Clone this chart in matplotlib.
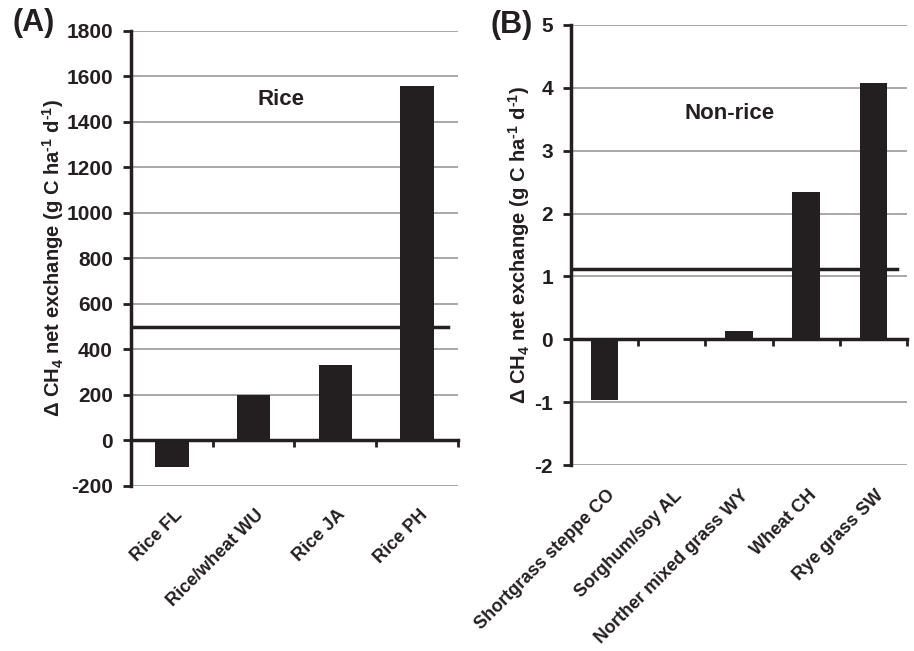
import numpy as np
import matplotlib
matplotlib.use('Agg')
import matplotlib.pyplot as plt
import matplotlib.transforms as mtransforms

plt.rcParams['font.family'] = 'Liberation Sans'
plt.rcParams['font.weight'] = 'bold'
plt.rcParams['axes.unicode_minus'] = False
plt.rcParams['mathtext.fontset'] = 'custom'
plt.rcParams['mathtext.rm'] = 'Liberation Sans:bold'
plt.rcParams['mathtext.default'] = 'rm'

# Panel A: rice sites
rice_sites = ['Rice FL', 'Rice/wheat WU', 'Rice JA', 'Rice PH']
rice_values = [-115, 200, 330, 1560]
rice_ref = 500

# Panel B: non-rice sites
nonrice_sites = ['Shortgrass steppe CO', 'Sorghum/soy AL', 'Norther mixed grass WY',
                 'Wheat CH', 'Rye grass SW']
nonrice_values = [-0.97, -0.03, 0.13, 2.35, 4.08]
nonrice_ref = 1.12

ylabel = 'Δ CH$_4$ net exchange (g C ha$^{\u2010 1}$ d$^{\u2010 1}$)'
bar_color = '#231f20'


def draw_panel(ax, sites, values, ref, ylim, step, note, note_xy, label_x, lab_off):
    x = np.arange(len(sites))
    ax.bar(x, values, width=0.41, color=bar_color, zorder=3)

    ax.set_xlim(-0.5, len(sites) - 0.5)
    ax.set_ylim(*ylim)
    ax.set_yticks(np.arange(ylim[0], ylim[1] + step / 2, step))
    ax.yaxis.grid(True, color='#a0a0a0', linewidth=1.3)
    ax.set_axisbelow(True)

    ax.spines['top'].set_visible(False)
    ax.spines['right'].set_visible(False)
    ax.spines['left'].set_linewidth(2.5)
    ax.spines['left'].set_color(bar_color)
    ax.spines['bottom'].set_position(('data', 0))
    ax.spines['bottom'].set_linewidth(2.5)
    ax.spines['bottom'].set_color(bar_color)

    # small tick marks between categories on the zero line
    ax.set_xticks(np.arange(len(sites) + 1) - 0.5)
    ax.tick_params(axis='x', direction='out', length=5, width=2, color=bar_color,
                   labelbottom=False)
    ax.tick_params(axis='y', direction='out', length=6, width=2, color=bar_color,
                   labelsize=15, pad=7, labelcolor=bar_color)

    trans = mtransforms.blended_transform_factory(ax.transData, ax.transAxes)
    for i, name in enumerate(sites):
        ax.text(i + 0.02, lab_off, name, transform=trans, rotation=45,
                ha='right', va='top', rotation_mode='anchor', fontsize=13,
                fontweight='bold', color=bar_color)

    ax.axhline(ref, xmin=0, xmax=0.97, color=bar_color, linewidth=2.5, zorder=4)

    ax.text(note_xy[0], note_xy[1], note, transform=ax.transAxes, ha='center',
            va='center', fontsize=16, fontweight='bold', color=bar_color)

    ax.set_ylabel(ylabel, fontsize=14.5, fontweight='bold', color=bar_color)
    ax.yaxis.set_label_coords(label_x, 0.5)


fig = plt.figure(figsize=(9.14, 6.51), dpi=100)
ax_a = fig.add_axes([0.1433, 0.2535, 0.3578, 0.6989])
ax_b = fig.add_axes([0.6247, 0.2857, 0.3676, 0.6759])

draw_panel(ax_a, rice_sites, rice_values, rice_ref, (-200, 1800), 200,
           'Rice', (0.46, 0.85), -0.20, -0.045)
draw_panel(ax_b, nonrice_sites, nonrice_values, nonrice_ref, (-2, 5), 1,
           'Non-rice', (0.473, 0.80), -0.116, -0.05)

fig.text(0.037, 0.965, '(A)', fontsize=22, fontweight='bold', ha='center',
         va='center', color=bar_color)
fig.text(0.560, 0.962, '(B)', fontsize=22, fontweight='bold', ha='center',
         va='center', color=bar_color)

fig.savefig('out.png', dpi=100)
